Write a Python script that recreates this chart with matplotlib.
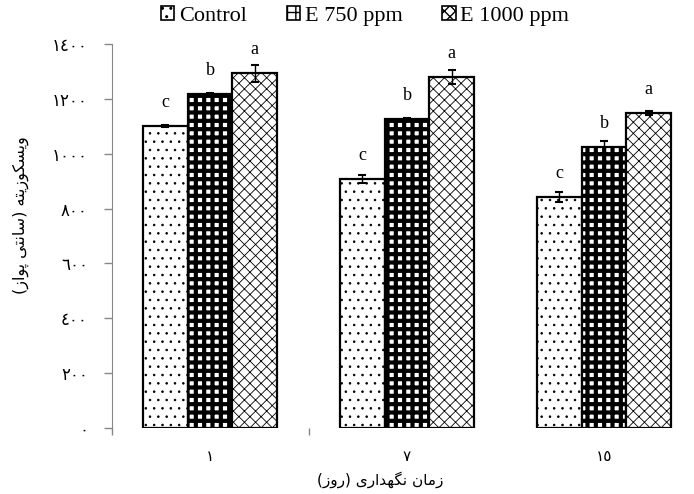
import matplotlib
matplotlib.use('Agg')
import matplotlib.pyplot as plt
import numpy as np
from matplotlib.patches import Patch

# Data
days = ['١', '٧', '١٥']
treatments = ['Control', 'E 750 ppm', 'E 1000 ppm']
control = [1100, 907, 841]
e750 = [1217, 1126, 1024]
e1000 = [1293, 1279, 1148]
control_err = [3, 15, 18]
e750_err = [6, 3, 22]
e1000_err = [30, 25, 8]
letters = [['c', 'c', 'c'], ['b', 'b', 'b'], ['a', 'a', 'a']]
y_ticks = [0, 200, 400, 600, 800, 1000, 1200, 1400]
y_tick_labels = ['٠', '٢٠٠', '٤٠٠', '٦٠٠', '٨٠٠', '١٠٠٠', '١٢٠٠', '١٤٠٠']
y_title = 'ویسکوزیته (سانتی پواز)'
x_title = 'زمان نگهداری (روز)'

# matplotlib has no arabic shaping, so pick presentation forms by hand
FORMS = {
    'ا': ('\uFE8D', '\uFE8E'),
    'د': ('\uFEA9', '\uFEAA'),
    'ر': ('\uFEAD', '\uFEAE'),
    'ز': ('\uFEAF', '\uFEB0'),
    'و': ('\uFEED', '\uFEEE'),
    'ت': ('\uFE95', '\uFE96', '\uFE97', '\uFE98'),
    'س': ('\uFEB1', '\uFEB2', '\uFEB3', '\uFEB4'),
    'م': ('\uFEE1', '\uFEE2', '\uFEE3', '\uFEE4'),
    'ن': ('\uFEE5', '\uFEE6', '\uFEE7', '\uFEE8'),
    'ه': ('\uFEE9', '\uFEEA', '\uFEEB', '\uFEEC'),
    'پ': ('\uFB56', '\uFB57', '\uFB58', '\uFB59'),
    'ک': ('\uFB8E', '\uFB8F', '\uFB90', '\uFB91'),
    'گ': ('\uFB92', '\uFB93', '\uFB94', '\uFB95'),
    'ی': ('\uFBFC', '\uFBFD', '\uFBFE', '\uFBFF'),
}


def shape(text):
    out = []
    for i, c in enumerate(text):
        if c not in FORMS:
            out.append({'(': ')', ')': '('}.get(c, c))
            continue
        prev = text[i - 1] if i > 0 else ''
        nxt = text[i + 1] if i + 1 < len(text) else ''
        join_prev = prev in FORMS and len(FORMS[prev]) == 4
        join_next = len(FORMS[c]) == 4 and nxt in FORMS
        f = FORMS[c]
        if join_prev and join_next:
            out.append(f[3])
        elif join_prev:
            out.append(f[1])
        elif join_next:
            out.append(f[2])
        else:
            out.append(f[0])
    return ''.join(reversed(out))


fig = plt.figure(figsize=(6.94, 4.94), dpi=100)
ax = fig.add_axes([0.1607, 0.1336, 0.8515, 0.7774])

x = np.arange(1, 4)
w = 0.227
styles = [('..', 0.6), ('++', 3.0), ('xxx', 0.6)]
series = [control, e750, e1000]
errs = [control_err, e750_err, e1000_err]

for k in range(3):
    hatch, hlw = styles[k]
    with plt.rc_context({'hatch.linewidth': hlw}):
        bars = ax.bar(x + (k - 1) * w, series[k], w, color='white', edgecolor='black',
                      hatch=hatch, linewidth=1.6, zorder=2)
    for b in bars:
        if hasattr(b, 'set_hatch_linewidth'):
            b.set_hatch_linewidth(hlw)
    ax.errorbar(x + (k - 1) * w, series[k], yerr=errs[k], fmt='none', ecolor='black',
                elinewidth=1, capsize=3, capthick=1.5, zorder=3)
    for i in range(3):
        ax.annotate(letters[k][i], (x[i] + (k - 1) * w, series[k][i]), xytext=(0, 17),
                    textcoords='offset points', ha='center', va='center',
                    fontsize=13, family='Liberation Serif')

ax.set_xlim(0.5, 3.5)
ax.set_ylim(0, 1400)
ax.set_yticks(y_ticks)
ax.set_yticklabels(y_tick_labels, family='DejaVu Sans', fontsize=12)
ax.set_xticks(x)
ax.set_xticklabels(days, family='DejaVu Sans', fontsize=11)
ax.set_xticks([0.5, 1.5], minor=True)
ax.tick_params(axis='x', which='major', length=0, pad=15)
ax.tick_params(axis='x', which='minor', length=5, color='#888888', width=1)
ax.tick_params(axis='y', length=6, color='#888888', width=1, pad=11)

for s in ['top', 'right', 'bottom']:
    ax.spines[s].set_visible(False)
ax.spines['left'].set_color('#888888')

fig.text(0.03, 1 - 215 / 494, shape(y_title), rotation=90, ha='center', va='center',
         family='DejaVu Sans', fontsize=11.5)
fig.text(380 / 694, 1 - 480 / 494, shape(x_title), ha='center', va='center',
         family='DejaVu Sans', fontsize=11)

handles = []
for k in range(3):
    with plt.rc_context({'hatch.linewidth': styles[k][1]}):
        handles.append(Patch(facecolor='white', edgecolor='black', hatch=styles[k][0],
                             linewidth=1.2, label=treatments[k]))
fig.legend(handles=handles, loc='center', bbox_to_anchor=(365 / 694, 1 - 16 / 494), ncol=3,
           frameon=False, prop={'family': 'Liberation Serif', 'size': 16},
           handlelength=0.6, handleheight=0.6, handletextpad=0.2, columnspacing=1.8)

fig.savefig('out.png', dpi=100)
